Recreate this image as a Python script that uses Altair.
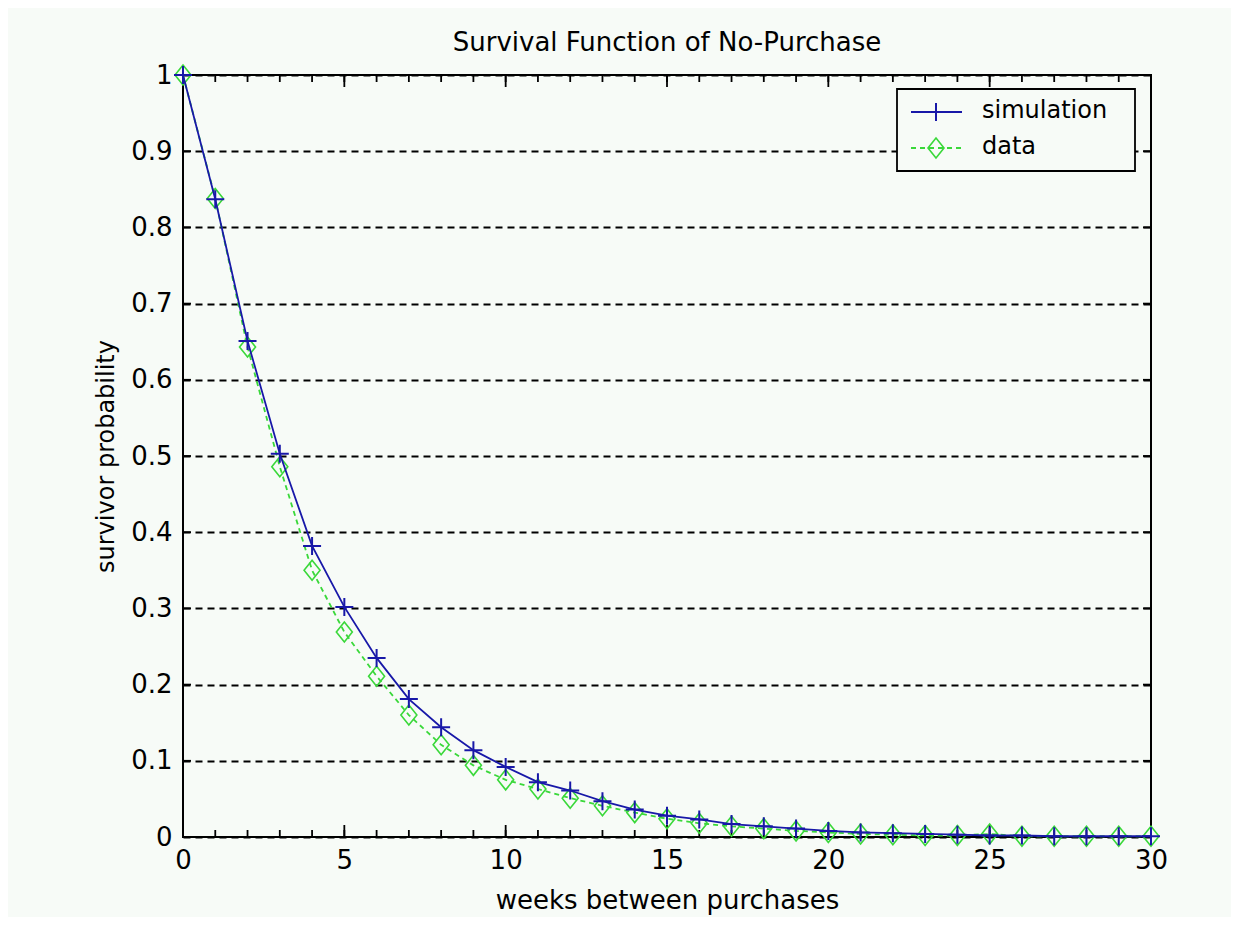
import altair as alt
import pandas as pd

# ---------------- data ----------------
weeks = list(range(31))
simulation = [1.0, 0.837, 0.651, 0.503, 0.382, 0.302, 0.235, 0.181, 0.144, 0.114,
              0.092, 0.072, 0.061, 0.047, 0.036, 0.028, 0.023, 0.017, 0.014, 0.011,
              0.008, 0.006, 0.005, 0.004, 0.003, 0.002, 0.002, 0.001, 0.001, 0.001, 0.001]
observed = [1.0, 0.838, 0.643, 0.486, 0.350, 0.269, 0.211, 0.160, 0.121, 0.094,
            0.075, 0.063, 0.051, 0.041, 0.032, 0.024, 0.018, 0.014, 0.011, 0.008,
            0.006, 0.004, 0.003, 0.002, 0.002, 0.004, 0.001, 0.001, 0.001, 0.001, 0.001]
series_names = ["simulation", "data"]
x_major = [0, 5, 10, 15, 20, 25, 30]
x_minor = list(range(31))
y_ticks = [0, 0.1, 0.2, 0.3, 0.4, 0.5, 0.6, 0.7, 0.8, 0.9, 1.0]
title_text = "Survival Function of No-Purchase"
x_title = "weeks between purchases"
y_title = "survivor probability"

# ---------------- style ----------------
W, H = 968, 762
FONT = "DejaVu Sans"
BG = "#f7fbf7"
BLUE = "#1818a8"
GREEN = "#3ad83a"
PLUS = "M-1,0L1,0M0,-1L0,1"
DIAMOND = "M0,-1L0.8,0L0,1L-0.8,0Z"

df_sim = pd.DataFrame({"week": weeks, "value": simulation})
df_dat = pd.DataFrame({"week": weeks, "value": observed})
df_minor = pd.DataFrame({"week": x_minor})
df_major = pd.DataFrame({"week": x_major})
df_y = pd.DataFrame({"value": y_ticks})
one = pd.DataFrame({"n": [0]})

xs = alt.Scale(domain=[0, 30], nice=False, zero=False)
ys = alt.Scale(domain=[0, 1], nice=False, zero=False)

x_axis = alt.Axis(values=x_major, title=x_title, ticks=False, domain=False,
                  grid=False, labelFontSize=26, labelPadding=10,
                  titleFontSize=26, titlePadding=14, labelFlush=False)
y_axis = alt.Axis(values=y_ticks, title=y_title, ticks=False, domain=False,
                  grid=True, gridColor="black", gridDash=[7, 5], gridWidth=2,
                  gridOpacity=1, labelFontSize=26, labelPadding=11, format="~g",
                  titleFontSize=24, titlePadding=12, labelFlush=False)
X = alt.X("week:Q", scale=xs, axis=x_axis)
Y = alt.Y("value:Q", scale=ys, axis=y_axis)

line_dat = alt.Chart(df_dat).mark_line(color=GREEN, strokeWidth=1.8, strokeDash=[5, 4]).encode(x=X, y=Y)
pts_dat = alt.Chart(df_dat).mark_point(shape=DIAMOND, size=400, color=GREEN, strokeWidth=1.6,
                                       filled=False, opacity=1).encode(x=X, y=Y)
line_sim = alt.Chart(df_sim).mark_line(color=BLUE, strokeWidth=1.8).encode(x=X, y=Y)
pts_sim = alt.Chart(df_sim).mark_point(shape=PLUS, size=324, color=BLUE, strokeWidth=2,
                                       filled=False, opacity=1).encode(x=X, y=Y)

rule = dict(color="black", strokeWidth=1.8)
bot_minor = alt.Chart(df_minor).mark_rule(**rule).encode(x=X, y=alt.value(H), y2=alt.value(H - 7))
top_minor = alt.Chart(df_minor).mark_rule(**rule).encode(x=X, y=alt.value(0), y2=alt.value(7))
bot_major = alt.Chart(df_major).mark_rule(**rule).encode(x=X, y=alt.value(H), y2=alt.value(H - 12))
top_major = alt.Chart(df_major).mark_rule(**rule).encode(x=X, y=alt.value(0), y2=alt.value(12))
left_t = alt.Chart(df_y).mark_rule(**rule).encode(y=Y, x=alt.value(0), x2=alt.value(8))
right_t = alt.Chart(df_y).mark_rule(**rule).encode(y=Y, x=alt.value(W), x2=alt.value(W - 8))

# legend
box = alt.Chart(one).mark_rect(fill=BG, stroke="black", strokeWidth=1.8).encode(
    x=alt.value(714), x2=alt.value(952), y=alt.value(14), y2=alt.value(96))
leg_l1 = alt.Chart(one).mark_rule(color=BLUE, strokeWidth=1.8).encode(
    x=alt.value(728), x2=alt.value(779), y=alt.value(37))
leg_p1 = alt.Chart(one).mark_point(shape=PLUS, size=324, color=BLUE, strokeWidth=2,
                                   filled=False, opacity=1).encode(x=alt.value(753), y=alt.value(37))
leg_t1 = alt.Chart(one).mark_text(align="left", baseline="middle", fontSize=24, font=FONT,
                                  color="black").encode(
    x=alt.value(799), y=alt.value(36), text=alt.value(series_names[0]))
leg_l2 = alt.Chart(one).mark_rule(color=GREEN, strokeWidth=1.8, strokeDash=[5, 4]).encode(
    x=alt.value(728), x2=alt.value(779), y=alt.value(73))
leg_p2 = alt.Chart(one).mark_point(shape=DIAMOND, size=400, color=GREEN, strokeWidth=1.6,
                                   filled=False, opacity=1).encode(x=alt.value(753), y=alt.value(73))
leg_t2 = alt.Chart(one).mark_text(align="left", baseline="middle", fontSize=24, font=FONT,
                                  color="black").encode(
    x=alt.value(799), y=alt.value(72), text=alt.value(series_names[1]))

chart = alt.layer(
    line_dat, bot_minor, top_minor, bot_major, top_major, left_t, right_t,
    pts_dat, line_sim, pts_sim,
    box, leg_l1, leg_p1, leg_t1, leg_l2, leg_p2, leg_t2,
).properties(
    width=W, height=H,
    autosize="none",
    padding={"left": 175, "top": 67, "right": 80, "bottom": 80},
    background=BG,
    title=alt.TitleParams(title_text, fontSize=26, font=FONT, fontWeight="normal",
                          color="black", anchor="middle", offset=6),
).configure_axis(
    labelFont=FONT, titleFont=FONT, labelColor="black", titleColor="black",
    titleFontWeight="normal",
).configure_view(stroke="black", strokeWidth=2)

chart.save("out.html", embed_options={"renderer": "svg", "actions": False})
